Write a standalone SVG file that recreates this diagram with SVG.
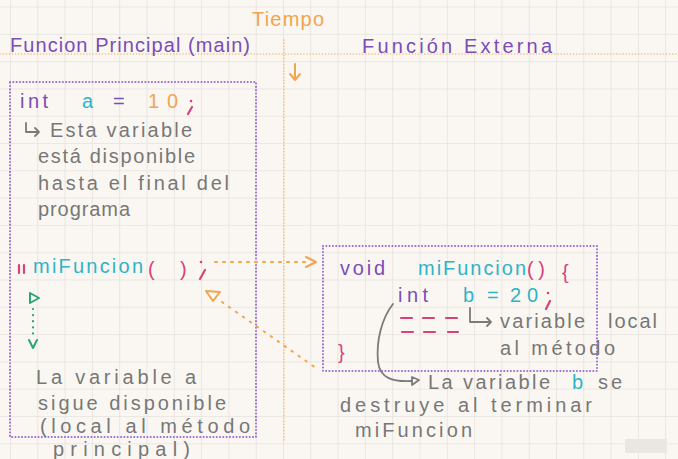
<svg xmlns="http://www.w3.org/2000/svg" width="678" height="459" viewBox="0 0 678 459">
<defs>
<pattern id="grid" x="10" y="6.5" width="27.3" height="27.3" patternUnits="userSpaceOnUse">
<path d="M0 0V27.3M0 0H27.3" fill="none" stroke="#e6e2dd" stroke-width="1.6"/>
</pattern>
<style>
text{font-family:"Liberation Sans","Noto Sans",sans-serif;font-size:20px}
.pu{fill:#7b4db5}.te{fill:#2fb3c6}.or{fill:#f0a54e}.cr{fill:#d8427a}.gr{fill:#777777}
.box{fill:none;stroke:#9b6bd0;stroke-width:2;stroke-dasharray:0.1 3.2;stroke-linecap:round}
.odot{fill:none;stroke:#f2bf7c;stroke-width:1.6;stroke-dasharray:0.1 3;stroke-linecap:round}
.oarr{fill:none;stroke:#f0a54e;stroke-width:2;stroke-linecap:round;stroke-linejoin:round}
.gline{fill:none;stroke:#7a7a7a;stroke-width:1.8;stroke-linecap:round;stroke-linejoin:round}
.crl{fill:none;stroke:#d8427a;stroke-width:2.2;stroke-linecap:round}
</style>
</defs>
<rect width="678" height="459" fill="#faf7f3"/>
<rect width="678" height="459" fill="url(#grid)"/>
<rect x="625" y="439" width="42" height="14" fill="#e9e6e3"/>

<g id="timeline">
<line x1="0" y1="54" x2="678" y2="54" class="odot"/>
<line x1="284" y1="40" x2="284" y2="440" class="odot"/>
<text x="252" y="26" class="or" font-size="22" textLength="72" lengthAdjust="spacing">Tiempo</text>
<path d="M295 64V80M290 74L295 80L300 74" class="oarr"/>
</g>

<g id="headers">
<text x="10" y="52" class="pu" font-size="21" textLength="240" lengthAdjust="spacing">Funcion Principal (main)</text>
<text x="362" y="53" class="pu" font-size="21" textLength="190" lengthAdjust="spacing">Función Externa</text>
</g>

<g id="main-function">
<rect x="10" y="82" width="246" height="355" class="box"/>
<text x="20" y="108" class="pu" textLength="28" lengthAdjust="spacing">int</text>
<text x="82" y="108" class="te" font-size="21">a</text>
<text x="113" y="108" class="pu" font-size="21">=</text>
<text x="148" y="108" class="or" font-size="22" textLength="30" lengthAdjust="spacing">10</text>
<circle cx="191" cy="101" r="1.3" fill="#d8427a"/>
<path d="M192 107L188 114" class="crl"/>
<path d="M26 123V132H39M35 128L39 132L35 136" class="gline" stroke-width="1.5"/>
<text x="50" y="137" class="gr" textLength="142" lengthAdjust="spacing">Esta variable</text>
<text x="38" y="163" class="gr" textLength="157" lengthAdjust="spacing">está disponible</text>
<text x="38" y="190" class="gr" textLength="191" lengthAdjust="spacing">hasta el final del</text>
<text x="38" y="216" class="gr" textLength="92" lengthAdjust="spacing">programa</text>
<path d="M19 265V273M24 265V273" class="crl" stroke-width="2"/>
<text x="33" y="273" class="te" font-size="21" textLength="110" lengthAdjust="spacing">miFuncion</text>
<text x="148" y="276" class="cr" font-size="23">(</text>
<text x="180" y="276" class="cr" font-size="23">)</text>
<circle cx="201" cy="262" r="1.3" fill="#d8427a"/>
<path d="M205 270L200 279" class="crl"/>
<text x="36" y="384" class="gr" textLength="160" lengthAdjust="spacing">La variable a</text>
<text x="38" y="410" class="gr" textLength="188" lengthAdjust="spacing">sigue disponible</text>
<text x="40" y="433" class="gr" textLength="210" lengthAdjust="spacing">(local al método</text>
<text x="53" y="456" class="gr" textLength="137" lengthAdjust="spacing">principal)</text>
</g>

<g id="external-function">
<rect x="323" y="246" width="274" height="125" class="box"/>
<text x="340" y="275" class="pu" textLength="45" lengthAdjust="spacing">void</text>
<text x="418" y="275" class="te" textLength="108" lengthAdjust="spacing">miFuncion</text>
<text x="527" y="276" class="cr" font-size="22" textLength="18" lengthAdjust="spacing">()</text>
<text x="562" y="279" class="cr" font-size="25">{</text>
<text x="398" y="302" class="pu" textLength="30" lengthAdjust="spacing">int</text>
<text x="463" y="302" class="te" font-size="21">b</text>
<text x="487" y="302" class="te" font-size="21">=</text>
<text x="510" y="302" class="te" font-size="21" textLength="28" lengthAdjust="spacing">20</text>
<circle cx="548" cy="293" r="1.3" fill="#d8427a"/>
<path d="M550 301L546 309" class="crl"/>
<path d="M401 318H412M423 318H434M446 318H457M402 332H413M424 332H435M448 332H458" class="crl"/>
<path d="M470 308V322H491M487 318L491 322L487 326" class="gline" stroke-width="1.5"/>
<text x="500" y="328" class="gr" textLength="85" lengthAdjust="spacing">variable</text>
<text x="608" y="328" class="gr" textLength="49" lengthAdjust="spacing">local</text>
<text x="500" y="355" class="gr" textLength="115" lengthAdjust="spacing">al método</text>
<text x="338" y="359" class="cr" font-size="27">}</text>
</g>

<g id="destroy-note">
<text x="428" y="389" class="gr" textLength="122" lengthAdjust="spacing">La variable</text>
<text x="572" y="389" class="te">b</text>
<text x="598" y="389" class="gr" textLength="24" lengthAdjust="spacing">se</text>
<text x="340" y="412" class="gr" textLength="252" lengthAdjust="spacing">destruye al terminar</text>
<text x="355" y="437" class="gr" textLength="117" lengthAdjust="spacing">miFuncion</text>
</g>

<g id="connectors">
<path d="M215 262H306" class="oarr" stroke-dasharray="2 6"/>
<path d="M306 257L316 262L306 267" class="oarr"/>
<path d="M222 302L316 368" class="oarr" stroke-dasharray="1.5 7"/>
<path d="M206 291L220 292L213 301Z" class="oarr"/>
<path d="M30 293L39 298L30 303Z" fill="none" stroke="#2aa37a" stroke-width="2" stroke-linejoin="round"/>
<path d="M33 309V336" fill="none" stroke="#2aa37a" stroke-width="2.2" stroke-dasharray="0.1 6" stroke-linecap="round"/>
<path d="M29 340L33 348L37 340" fill="none" stroke="#2aa37a" stroke-width="2" stroke-linecap="round" stroke-linejoin="round"/>
<path d="M393 304C382 318 376 340 378 362C380 378 392 382 412 381" class="gline"/>
<path d="M412 377L419 380L412 385Z" class="gline" stroke-width="1.6"/>
</g>
</svg>
